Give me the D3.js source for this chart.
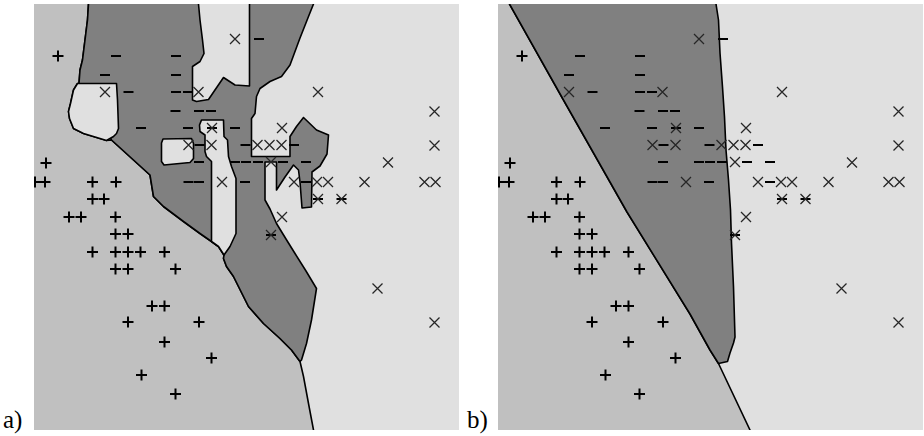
<!DOCTYPE html>
<html>
<head>
<meta charset="utf-8">
<script src="https://cdn.jsdelivr.net/npm/d3@7"></script>
<style>
  body { margin: 0; background: #fff; }
  svg { display: block; }
</style>
</head>
<body>
<svg id="chart" width="924" height="436"></svg>
<script>
// Two-feature training set, three classes (+, −, ×), shared by both panels.
const plusX  = [0.48,0.24,0.02,0.22,1.17,1.64,1.17,1.40,0.70,0.94,1.63,1.63,1.88,1.17,1.63,1.88,2.13,2.61,1.63,1.88,2.83,2.36,2.61,1.88,3.30,2.61,3.55,2.15,2.83];
const plusY  = [7.48,5.34,4.96,4.96,4.96,4.96,4.62,4.62,4.26,4.26,4.26,3.92,3.92,3.56,3.56,3.56,3.56,3.56,3.22,3.22,3.22,2.48,2.48,2.16,2.16,1.76,1.44,1.10,0.72];

const minusX = [4.50,1.64,2.84,1.42,2.84,1.89,2.84,3.08,2.83,3.30,3.54,2.14,3.08,3.56,4.02,3.31,4.23,5.20,3.30,4.02,4.24,4.48,4.98,5.44,3.09,3.30,4.22,5.44,5.68,6.15,4.74];
const minusY = [7.82,7.48,7.48,7.10,7.10,6.76,6.76,6.76,6.38,6.38,6.38,6.04,6.04,6.04,6.04,5.70,5.70,5.70,5.36,5.36,5.36,5.36,5.36,5.36,4.96,4.96,4.96,4.96,4.62,4.62,3.90];

const crossX = [4.02,1.42,3.29,5.68,8.01,3.56,4.96,3.09,3.55,4.47,4.71,4.95,8.01,4.74,7.08,3.76,5.20,5.66,5.88,6.61,7.81,8.03,5.68,6.15,4.96,4.74,6.87,8.01];
const crossY = [7.82,6.76,6.76,6.76,6.37,6.04,6.04,5.70,5.70,5.70,5.70,5.70,5.69,5.36,5.35,4.96,4.96,4.96,4.96,4.96,4.96,4.96,4.62,4.62,4.26,3.90,2.83,2.15];

// Panel a: nearest-neighbour style decision regions.
const plusRegionA = [[-0.1,8.62],[1.09,8.62],[1.09,8.52],[1.07,8.20],[1.02,7.80],[0.97,7.40],[0.92,7.20],[0.90,6.93],[0.87,6.93],[0.79,6.80],[0.73,6.53],[0.69,6.37],[0.71,6.23],[0.79,6.03],[0.99,5.93],[1.32,5.83],[1.45,5.79],[1.55,5.80],[1.99,5.40],[2.32,5.10],[2.39,4.67],[2.59,4.47],[2.99,4.17],[3.32,3.93],[3.55,3.77],[3.69,3.67],[3.80,3.50],[3.79,3.43],[3.85,3.27],[3.99,3.07],[4.29,2.47],[4.59,2.13],[4.92,1.83],[5.15,1.60],[5.32,1.37],[5.39,1.07],[5.49,0.53],[5.59,0],[5.61,-0.1],[-0.1,-0.1]];
const minusRegionA = [[1.09,8.62],[5.61,8.62],[5.59,8.52],[5.49,8.27],[5.32,7.84],[5.12,7.30],[4.95,7.07],[4.72,6.97],[4.52,6.83],[4.45,6.67],[4.42,6.33],[4.35,6.23],[4.35,5.47],[5.12,5.47],[5.12,5.87],[5.25,6.07],[5.39,6.25],[5.65,6.00],[5.89,5.90],[5.86,5.52],[5.72,5.28],[5.56,5.16],[5.55,4.46],[5.36,4.44],[5.32,4.96],[5.29,5.20],[5.19,5.30],[5.02,5.06],[4.85,4.80],[4.85,5.36],[4.62,5.36],[4.62,4.60],[4.72,4.42],[4.85,4.13],[5.04,3.82],[5.22,3.53],[5.44,3.18],[5.65,2.83],[5.55,2.20],[5.45,1.73],[5.35,1.40],[5.32,1.37],[5.15,1.60],[4.92,1.83],[4.59,2.13],[4.29,2.47],[3.99,3.07],[3.85,3.27],[3.79,3.43],[3.80,3.50],[3.69,3.67],[3.55,3.77],[3.32,3.93],[2.99,4.17],[2.59,4.47],[2.39,4.67],[2.32,5.10],[1.99,5.40],[1.55,5.80],[0.90,6.93],[0.92,7.20],[0.97,7.40],[1.02,7.80],[1.07,8.20],[1.09,8.52]];
const crossIslandsA = [
  [[0.87,6.93],[1.65,6.93],[1.67,6.60],[1.69,6.03],[1.65,5.93],[1.59,5.87],[1.45,5.79],[1.32,5.83],[0.99,5.93],[0.79,6.03],[0.71,6.23],[0.69,6.37],[0.73,6.53],[0.79,6.80]],
  [[3.29,8.62],[4.31,8.62],[4.31,6.88],[4.02,6.90],[3.79,7.05],[3.49,6.61],[3.25,6.57],[3.17,6.60],[3.17,7.27],[3.32,7.37],[3.40,7.53],[3.37,7.80],[3.32,8.20],[3.29,8.52]],
  [[3.35,6.20],[3.79,6.20],[3.80,5.87],[3.87,5.80],[3.89,5.47],[3.95,5.27],[4.04,5.03],[4.04,3.93],[3.92,3.67],[3.80,3.50],[3.69,3.67],[3.55,3.77],[3.55,5.37],[3.45,5.47],[3.42,5.57],[3.42,5.90],[3.32,5.97],[3.31,6.10]],
  [[2.55,5.74],[2.58,5.82],[3.15,5.83],[3.19,5.73],[3.19,5.43],[3.12,5.35],[2.60,5.30],[2.55,5.37]]
];

// Panel b: smoother classifier with three large regions.
const plusRegionB = [[-0.1,8.62],[0.21,8.62],[0.23,8.52],[1.27,6.67],[2.58,4.36],[3.84,2.32],[4.24,1.60],[4.41,1.33],[5.04,0],[5.06,-0.1],[-0.1,-0.1]];
const minusRegionB = [[0.21,8.62],[4.35,8.62],[4.36,8.52],[4.41,8.20],[4.44,7.54],[4.49,6.86],[4.53,6.26],[4.56,5.60],[4.61,5.00],[4.65,4.40],[4.67,3.74],[4.71,2.86],[4.74,1.86],[4.71,1.74],[4.64,1.54],[4.59,1.37],[4.41,1.33],[4.24,1.60],[3.84,2.32],[2.58,4.36],[1.27,6.67],[0.23,8.52]];

const panels = [
  { label: "a)", left: 34, plus: plusRegionA, minus: [minusRegionA], cross: crossIslandsA },
  { label: "b)", left: 498, plus: plusRegionB, minus: [minusRegionB], cross: [] }
];

const colors = { plus: "#c0c0c0", minus: "#808080", cross: "#e0e0e0" };
const W = 425, H = 426, TOP = 4;

const x = d3.scaleLinear().domain([0, 8.5]).range([0, W]);
const y = d3.scaleLinear().domain([0, 8.52]).range([H, 0]);
const line = d3.line().x(d => x(d[0])).y(d => y(d[1]));

const svg = d3.select("#chart");
const defs = svg.append("defs");

const points = [
  ...plusX.map((v, i) => ({ c: "plus", x: v, y: plusY[i] })),
  ...minusX.map((v, i) => ({ c: "minus", x: v, y: minusY[i] })),
  ...crossX.map((v, i) => ({ c: "cross", x: v, y: crossY[i] }))
];

function markerPath(d) {
  const px = x(d.x), py = y(d.y), r = 5;
  if (d.c === "plus") return `M${px - r - 0.5},${py}H${px + r + 0.5}M${px},${py - r - 0.5}V${py + r + 0.5}`;
  if (d.c === "minus") return `M${px - r},${py}H${px + r}`;
  return `M${px - r},${py - r}L${px + r},${py + r}M${px - r},${py + r}L${px + r},${py - r}`;
}

panels.forEach((p, k) => {
  const clipId = "clip" + k;
  defs.append("clipPath").attr("id", clipId)
    .append("rect").attr("width", W).attr("height", H);

  const g = svg.append("g").attr("transform", `translate(${p.left},${TOP})`);
  const area = g.append("g").attr("clip-path", `url(#${clipId})`);

  area.append("rect").attr("width", W).attr("height", H).attr("fill", colors.cross);

  const drawRegion = (poly, cls) => area.append("path")
    .attr("d", line(poly) + "Z")
    .attr("fill", colors[cls])
    .attr("stroke", "#000")
    .attr("stroke-width", 1.6)
    .attr("stroke-linejoin", "round");

  drawRegion(p.plus, "plus");
  p.minus.forEach(r => drawRegion(r, "minus"));
  p.cross.forEach(r => drawRegion(r, "cross"));

  area.selectAll("path.mark")
    .data(points)
    .join("path")
    .attr("class", "mark")
    .attr("d", markerPath)
    .attr("fill", "none")
    .attr("stroke", d => d.c === "cross" ? "#262626" : "#000")
    .attr("stroke-width", d => d.c === "cross" ? 1.25 : 2);

  svg.append("text")
    .attr("x", p.left - 31)
    .attr("y", 428)
    .attr("font-family", "'Liberation Serif', 'DejaVu Serif', serif")
    .attr("font-size", 25)
    .attr("fill", "#000")
    .text(p.label);
});
</script>
</body>
</html>
